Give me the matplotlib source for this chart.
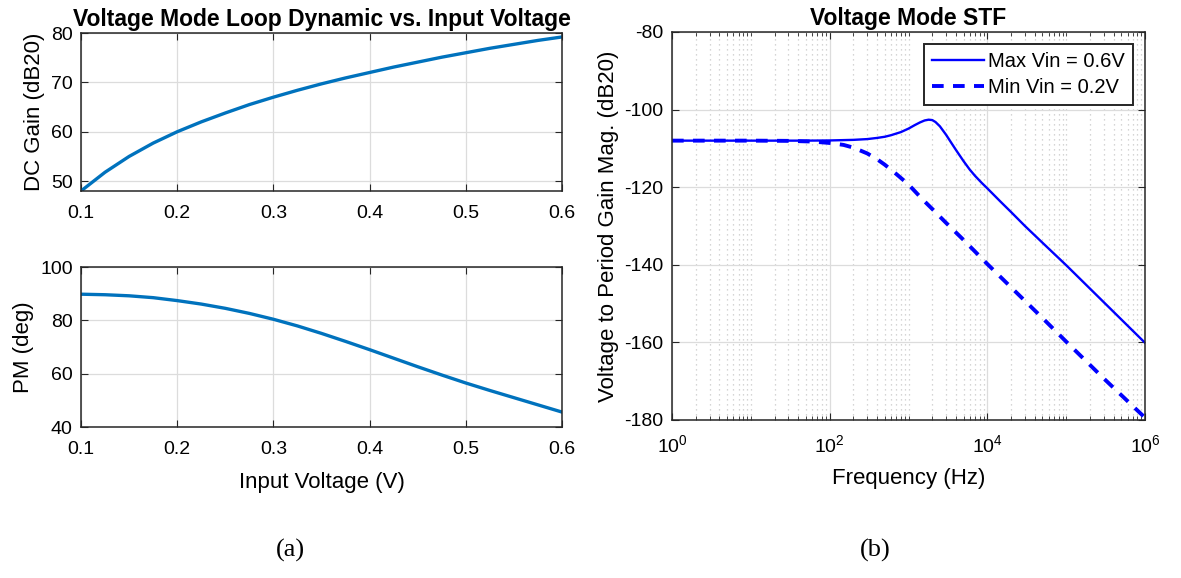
import matplotlib
matplotlib.use("Agg")
import matplotlib.pyplot as plt
from matplotlib.ticker import LogLocator, NullFormatter

plt.rcParams['font.family'] = ['Liberation Sans', 'DejaVu Sans']
plt.rcParams['axes.unicode_minus'] = False
plt.rcParams['mathtext.fontset'] = 'custom'
plt.rcParams['mathtext.rm'] = 'Liberation Sans'

# input voltage sweep (a)
vin = [0.100, 0.125, 0.150, 0.175, 0.200, 0.225, 0.250, 0.275, 0.300, 0.325, 0.350,
       0.375, 0.400, 0.425, 0.450, 0.475, 0.500, 0.525, 0.550, 0.575, 0.600]
dc_gain = [48.0, 51.8, 55.0, 57.7, 60.0, 62.0, 63.8, 65.5, 67.0, 68.4, 69.7,
           70.9, 72.0, 73.1, 74.1, 75.1, 76.0, 76.9, 77.7, 78.5, 79.2]
pm = [89.8, 89.6, 89.2, 88.5, 87.4, 86.1, 84.5, 82.6, 80.4, 77.9, 75.1,
      72.1, 69.0, 65.8, 62.6, 59.5, 56.5, 53.7, 51.0, 48.3, 45.6]

# STF magnitude (b)
freq_max = [1, 10, 50, 100, 200, 300, 400, 500, 600, 800, 1000, 1200, 1400, 1600,
            1800, 2000, 2200, 2500, 3000, 3500, 4000, 5000, 6000, 7000, 8500,
            1e4, 1.5e4, 2e4, 3e4, 5e4, 1e5, 1e6]
mag_max = [-108.0, -108.0, -108.0, -107.95, -107.8, -107.6, -107.3, -107.0, -106.6,
           -105.8, -104.9, -104.0, -103.3, -102.8, -102.6, -102.7, -103.2, -104.3,
           -106.5, -108.6, -110.4, -113.3, -115.5, -117.1, -118.9, -120.3, -123.9,
           -126.4, -130.0, -134.3, -140.1, -160.1]
freq_min = [1, 10, 30, 60, 100, 150, 200, 300, 400, 500, 700, 1000, 1500, 2000,
            3000, 5000, 1e4, 2e4, 5e4, 1e5, 3e5, 1e6]
mag_min = [-108.0, -108.0, -108.06, -108.23, -108.6, -109.1, -109.8, -111.3,
           -112.8, -114.2, -116.6, -119.3, -123.1, -125.6, -129.2, -133.6,
           -139.8, -145.8, -153.7, -159.8, -169.3, -179.4]

blue_a = '#0072BD'
W, H = 1181, 578


def box(x0, y0, x1, y1):
    return [x0 / W, 1 - y1 / H, (x1 - x0) / W, (y1 - y0) / H]


def style(ax):
    ax.tick_params(direction='in', top=True, right=True, labelsize=14, length=5,
                   color='#262626')
    ax.tick_params(axis='x', pad=10)
    ax.tick_params(axis='y', pad=6)
    ax.tick_params(which='minor', direction='in', top=True, right=True, length=3,
                   color='#262626')
    for s in ax.spines.values():
        s.set_color('#262626')
        s.set_linewidth(1.1)
    ax.grid(True, which='major', color='#dcdcdc', linewidth=0.9)


fig = plt.figure(figsize=(W / 100, H / 100), dpi=100)

ax1 = fig.add_axes(box(81, 33, 562, 191))
ax1.plot(vin, dc_gain, color=blue_a, linewidth=2.4)
ax1.set_xlim(0.1, 0.6)
ax1.set_ylim(48, 80)
ax1.set_yticks([50, 60, 70, 80])
ax1.set_xticks([0.1, 0.2, 0.3, 0.4, 0.5, 0.6])
ax1.set_ylabel('DC Gain (dB20)', fontsize=16, labelpad=4)
ax1.set_title('Voltage Mode Loop Dynamic vs. Input Voltage', fontsize=16.5,
              fontweight='bold', pad=5)
style(ax1)

ax2 = fig.add_axes(box(81, 267, 562, 427))
ax2.plot(vin, pm, color=blue_a, linewidth=2.4)
ax2.set_xlim(0.1, 0.6)
ax2.set_ylim(40, 100)
ax2.set_yticks([40, 60, 80, 100])
ax2.set_xticks([0.1, 0.2, 0.3, 0.4, 0.5, 0.6])
ax2.set_ylabel('PM (deg)', fontsize=16, labelpad=4)
ax2.set_xlabel('Input Voltage (V)', fontsize=16, labelpad=10)
style(ax2)

ax3 = fig.add_axes(box(672, 32, 1145, 420))
ax3.semilogx(freq_max, mag_max, color='blue', linewidth=1.7, label='Max Vin = 0.6V')
ax3.semilogx(freq_min, mag_min, color='blue', linewidth=2.8, linestyle=(0, (3, 2.4)),
             label='Min Vin = 0.2V')
ax3.set_xlim(1, 1e6)
ax3.set_ylim(-180, -80)
ax3.set_yticks([-180, -160, -140, -120, -100, -80])
ax3.set_xticks([1, 1e2, 1e4, 1e6])
ax3.xaxis.set_minor_locator(LogLocator(base=10, subs=range(1, 10), numticks=30))
ax3.xaxis.set_minor_formatter(NullFormatter())
ax3.set_xlabel('Frequency (Hz)', fontsize=16, labelpad=9)
ax3.set_ylabel('Voltage to Period Gain Mag. (dB20)', fontsize=16, labelpad=4)
ax3.set_title('Voltage Mode STF', fontsize=16.5, fontweight='bold', pad=5)
style(ax3)
ax3.grid(True, which='minor', axis='x', color='#c8c8c8', linestyle=(0, (1, 3)),
         linewidth=0.9)
leg = ax3.legend(loc='upper right', fontsize=14.5, fancybox=False, framealpha=1,
                 edgecolor='#262626', handlelength=2.6, handletextpad=0.2,
                 borderpad=0.4, labelspacing=0.35, borderaxespad=0.6)
leg.get_frame().set_linewidth(1.4)

fig.text(290 / W, 1 - 550 / H, '(a)', family='Liberation Serif', fontsize=19,
         ha='center', va='center')
fig.text(875 / W, 1 - 550 / H, '(b)', family='Liberation Serif', fontsize=19,
         ha='center', va='center')

fig.savefig('out.png', dpi=100, facecolor='white')
